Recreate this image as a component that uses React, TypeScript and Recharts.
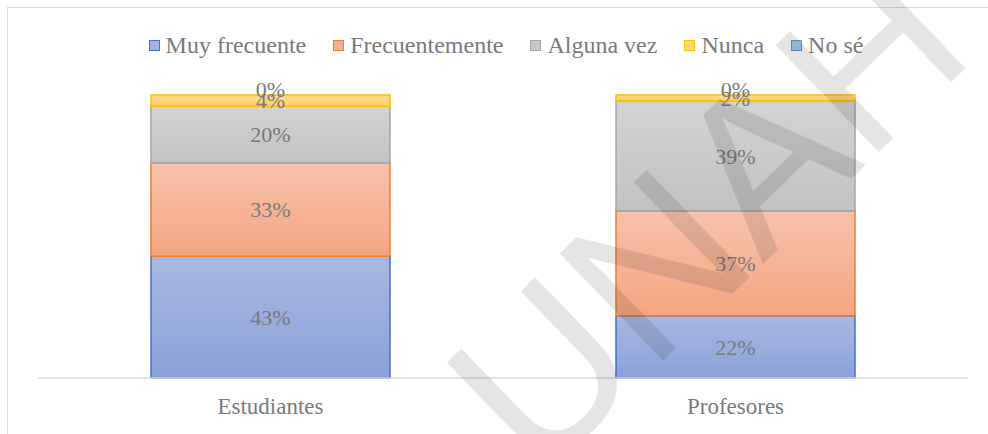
import React from 'react';
import { BarChart, Bar, XAxis, YAxis, LabelList, Legend } from 'recharts';

const groups = ['Estudiantes', 'Profesores'];
const muyFrecuente = [43, 22];
const frecuentemente = [33, 37];
const algunaVez = [20, 39];
const nunca = [4, 2];
const noSe = [0, 0];

const series = [
  { key: 'muy', name: 'Muy frecuente', values: muyFrecuente, stroke: '#4472c4', top: '#a9b8e1', bottom: '#8aa1d8', swatch: '#a3b3df' },
  { key: 'frec', name: 'Frecuentemente', values: frecuentemente, stroke: '#ed7d31', top: '#f7c2ab', bottom: '#f4a581', swatch: '#f5b194' },
  { key: 'alguna', name: 'Alguna vez', values: algunaVez, stroke: '#a5a5a5', top: '#d3d3d3', bottom: '#c2c2c2', swatch: '#c9c9c9' },
  { key: 'nunca', name: 'Nunca', values: nunca, stroke: '#ffc000', top: '#ffdb8a', bottom: '#ffd066', swatch: '#ffd97e' },
  { key: 'nose', name: 'No sé', values: noSe, stroke: '#5b9bd5', top: '#b2cdec', bottom: '#9cc0e6', swatch: '#a9c8ea' },
];

const data = groups.map((g, i) => {
  const row: Record<string, string | number> = { group: g };
  series.forEach((s) => {
    row[s.key] = s.values[i];
  });
  return row;
});

const textGray = '#7a7a7a';
const serif = "'Liberation Serif', 'Times New Roman', serif";

function ChartLegend() {
  return (
    <div style={{ height: 65, display: 'flex', justifyContent: 'center', alignItems: 'flex-start' }}>
      <div style={{ display: 'flex', alignItems: 'center', height: 30, gap: 27, marginLeft: 6 }}>
        {series.map((s) => (
          <div key={s.key} style={{ display: 'flex', alignItems: 'center' }}>
            <span
              style={{
                display: 'inline-block',
                width: 9,
                height: 9,
                background: s.swatch,
                border: `1.5px solid ${s.stroke}`,
                marginRight: 6,
              }}
            />
            <span style={{ fontFamily: serif, fontSize: 24, color: textGray, whiteSpace: 'nowrap' }}>{s.name}</span>
          </div>
        ))}
      </div>
    </div>
  );
}

export default function App() {
  return (
    <div
      style={{
        position: 'fixed',
        left: 0,
        top: 0,
        width: 988,
        height: 434,
        overflow: 'hidden',
        background: '#fff',
      }}
    >
      <div
        style={{
          position: 'absolute',
          left: 7,
          top: 7,
          width: 1200,
          height: 800,
          borderTop: '1.5px solid #d9d9d9',
          borderLeft: '1.5px solid #d9d9d9',
        }}
      />
      <div style={{ position: 'absolute', left: 0, top: 0 }}>
        <BarChart
          width={988}
          height={434}
          data={data}
          margin={{ top: 30, right: 20, left: 38, bottom: 0 }}
          barSize={239}
        >
          <defs>
            {series.map((s) => (
              <linearGradient key={s.key} id={`grad-${s.key}`} x1="0" y1="0" x2="0" y2="1">
                <stop offset="0%" stopColor={s.top} />
                <stop offset="100%" stopColor={s.bottom} />
              </linearGradient>
            ))}
          </defs>
          <Legend verticalAlign="top" content={<ChartLegend />} />
          <XAxis
            dataKey="group"
            height={56}
            axisLine={{ stroke: '#d9d9d9', strokeWidth: 1.5 }}
            tickLine={false}
            tickMargin={14}
            tick={{ fontSize: 23, fill: textGray, fontFamily: serif }}
          />
          <YAxis hide domain={[0, 100]} />
          {series.map((s) => {
            const empty = s.key === 'nose';
            return (
              <Bar
                key={s.key}
                dataKey={s.key}
                name={s.name}
                stackId="a"
                fill={empty ? 'transparent' : `url(#grad-${s.key})`}
                stroke={empty ? 'none' : s.stroke}
                strokeWidth={1.5}
                minPointSize={empty ? 1 : 0}
                isAnimationActive={false}
              >
                <LabelList
                  dataKey={s.key}
                  position="center"
                  formatter={(v: number) => `${v}%`}
                  style={{ fontSize: 22, fill: textGray, fontFamily: serif }}
                  dy={empty ? -5 : 0}
                />
              </Bar>
            );
          })}
        </BarChart>
      </div>
      {/* watermark */}
      <svg
        width={988}
        height={434}
        style={{ position: 'absolute', left: 0, top: 0, pointerEvents: 'none' }}
      >
        <text
          x={538}
          y={481}
          transform="rotate(-44 538 481)"
          fontFamily="'Liberation Sans', Arial, sans-serif"
          fontSize={216}
          fill="#000"
          fillOpacity={0.1}
        >
          UNAH
        </text>
      </svg>
    </div>
  );
}
